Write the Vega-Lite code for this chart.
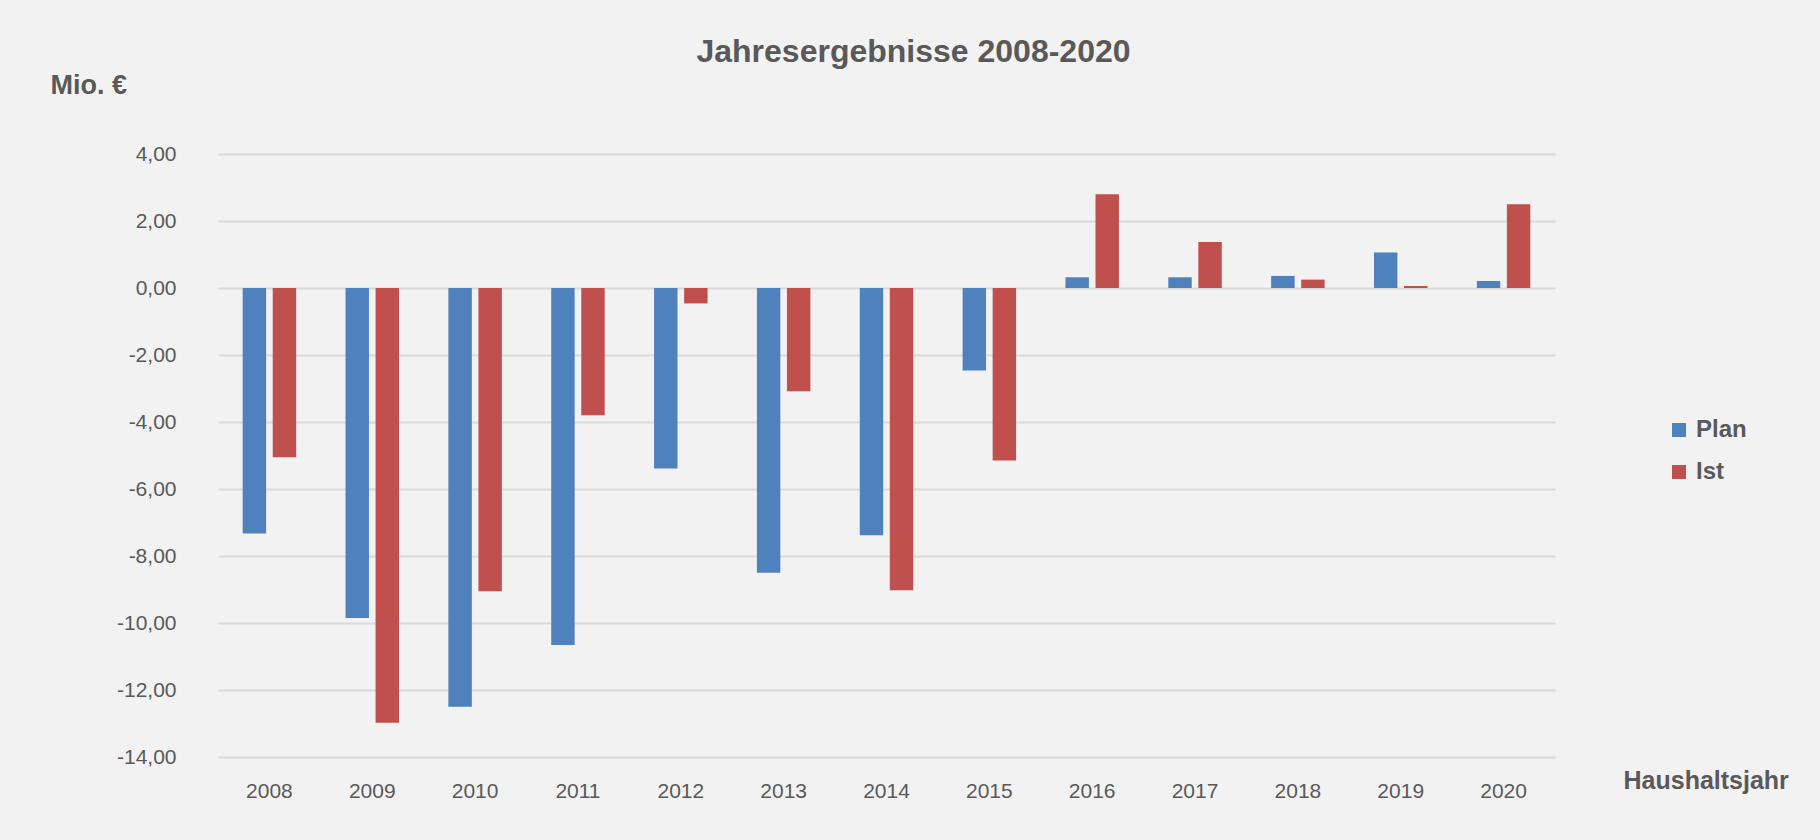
{
  "$schema": "https://vega.github.io/schema/vega-lite/v6.json",
  "autosize": {"type": "none"},
  "width": 1337,
  "height": 603,
  "padding": {"left": 218, "top": 154, "right": 265, "bottom": 83},
  "background": "#f2f2f2",
  "title": {
    "text": "Jahresergebnisse 2008-2020",
    "anchor": "middle",
    "frame": "group",
    "dx": 27,
    "offset": 2,
    "font": "Liberation Sans",
    "fontSize": 32,
    "fontWeight": "bold",
    "color": "#595959"
  },
  "data": {
    "values": [
      {"Jahr": "2008", "Serie": "Plan", "Wert": -7.33},
      {"Jahr": "2008", "Serie": "Ist", "Wert": -5.05},
      {"Jahr": "2009", "Serie": "Plan", "Wert": -9.85},
      {"Jahr": "2009", "Serie": "Ist", "Wert": -12.98},
      {"Jahr": "2010", "Serie": "Plan", "Wert": -12.5},
      {"Jahr": "2010", "Serie": "Ist", "Wert": -9.05},
      {"Jahr": "2011", "Serie": "Plan", "Wert": -10.66},
      {"Jahr": "2011", "Serie": "Ist", "Wert": -3.8},
      {"Jahr": "2012", "Serie": "Plan", "Wert": -5.39},
      {"Jahr": "2012", "Serie": "Ist", "Wert": -0.46},
      {"Jahr": "2013", "Serie": "Plan", "Wert": -8.5},
      {"Jahr": "2013", "Serie": "Ist", "Wert": -3.08},
      {"Jahr": "2014", "Serie": "Plan", "Wert": -7.38},
      {"Jahr": "2014", "Serie": "Ist", "Wert": -9.02},
      {"Jahr": "2015", "Serie": "Plan", "Wert": -2.46},
      {"Jahr": "2015", "Serie": "Ist", "Wert": -5.15},
      {"Jahr": "2016", "Serie": "Plan", "Wert": 0.32},
      {"Jahr": "2016", "Serie": "Ist", "Wert": 2.8},
      {"Jahr": "2017", "Serie": "Plan", "Wert": 0.32},
      {"Jahr": "2017", "Serie": "Ist", "Wert": 1.37},
      {"Jahr": "2018", "Serie": "Plan", "Wert": 0.36},
      {"Jahr": "2018", "Serie": "Ist", "Wert": 0.25},
      {"Jahr": "2019", "Serie": "Plan", "Wert": 1.06},
      {"Jahr": "2019", "Serie": "Ist", "Wert": 0.06},
      {"Jahr": "2020", "Serie": "Plan", "Wert": 0.21},
      {"Jahr": "2020", "Serie": "Ist", "Wert": 2.5}
    ]
  },
  "mark": {"type": "bar"},
  "encoding": {
    "x": {
      "field": "Jahr",
      "type": "nominal",
      "scale": {"paddingInner": 0.48, "paddingOuter": 0.24},
      "axis": {
        "title": "Haushaltsjahr",
        "titleAngle": 0,
        "titleAlign": "left",
        "titleBaseline": "middle",
        "titleX": 1405,
        "titleY": 23,
        "titleFont": "Liberation Sans",
        "titleFontSize": 25,
        "titleFontWeight": "bold",
        "titleColor": "#595959",
        "labelAngle": 0,
        "labelFont": "Liberation Sans",
        "labelFontSize": 21,
        "labelColor": "#595959",
        "labelPadding": 34,
        "labelBaseline": "middle",
        "domain": false,
        "ticks": false,
        "grid": false
      }
    },
    "xOffset": {
      "field": "Serie",
      "type": "nominal",
      "sort": ["Plan", "Ist"],
      "scale": {"paddingInner": 0.22}
    },
    "y": {
      "field": "Wert",
      "type": "quantitative",
      "scale": {"domain": [-14, 4], "nice": false, "zero": false},
      "axis": {
        "values": [-14, -12, -10, -8, -6, -4, -2, 0, 2, 4],
        "format": ".2f",
        "title": "Mio. €",
        "titleAngle": 0,
        "titleAlign": "left",
        "titleBaseline": "middle",
        "titleX": -168,
        "titleY": -69,
        "titleFont": "Liberation Sans",
        "titleFontSize": 27,
        "titleFontWeight": "bold",
        "titleColor": "#595959",
        "labelFont": "Liberation Sans",
        "labelFontSize": 21,
        "labelColor": "#595959",
        "labelPadding": 42,
        "domain": false,
        "ticks": false,
        "grid": true,
        "gridColor": "#d9d9d9",
        "gridWidth": 2
      }
    },
    "color": {
      "field": "Serie",
      "type": "nominal",
      "sort": ["Plan", "Ist"],
      "scale": {"domain": ["Plan", "Ist"], "range": ["#4f81bd", "#c0504d"]},
      "legend": {
        "title": null,
        "orient": "none",
        "legendX": 1449,
        "legendY": 264,
        "symbolType": "square",
        "symbolSize": 196,
        "symbolStrokeWidth": 0,
        "labelFont": "Liberation Sans",
        "labelFontSize": 24,
        "labelFontWeight": "bold",
        "labelColor": "#595959",
        "labelOffset": 5,
        "rowPadding": 18
      }
    }
  },
  "config": {
    "view": {"stroke": null},
    "locale": {
      "number": {
        "decimal": ",",
        "thousands": ".",
        "grouping": [3],
        "currency": ["", " €"],
        "minus": "-"
      }
    }
  }
}
